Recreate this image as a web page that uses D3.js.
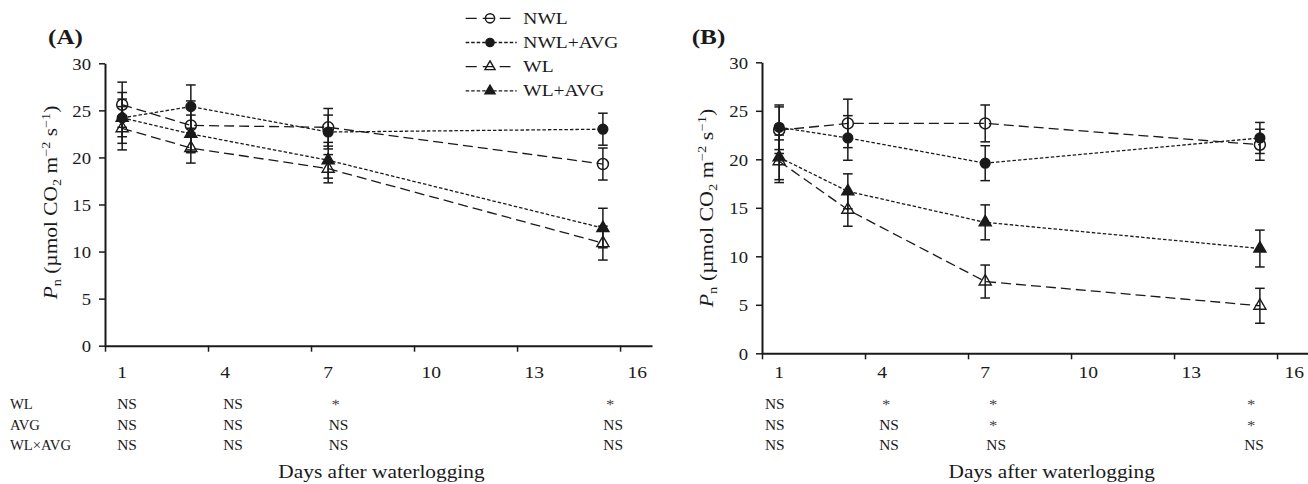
<!DOCTYPE html>
<html>
<head>
<meta charset="utf-8">
<script src="https://cdn.jsdelivr.net/npm/d3@7"></script>
<style>
  html, body { margin: 0; padding: 0; background: #fff; }
  svg { display: block; }
  text { font-family: "Liberation Serif", "Times New Roman", serif; fill: #1a1a1a; }
</style>
</head>
<body>
<svg id="chart" width="1308" height="484"></svg>
<script>
// ---- data -------------------------------------------------------------
const days = [1, 3, 7, 15];
const seriesNames = ["NWL", "NWL+AVG", "WL", "WL+AVG"];

// Panel A: mean Pn and standard error
const aNWL     = [25.6, 23.4, 23.2, 19.3];
const aNWLse   = [2.4, 2.6, 2.0, 1.7];
const aNWLAVG  = [24.2, 25.4, 22.7, 23.0];
const aNWLAVGse= [2.0, 2.3, 1.8, 1.7];
const aWL      = [23.1, 21.0, 18.8, 10.9];
const aWLse    = [2.3, 1.6, 1.5, 1.8];
const aWLAVG   = [24.2, 22.5, 19.7, 12.5];
const aWLAVGse = [2.7, 2.0, 1.9, 2.1];

// Panel B: mean Pn and standard error
const bNWL     = [23.0, 23.7, 23.7, 21.5];
const bNWLse   = [2.4, 2.5, 1.9, 1.6];
const bNWLAVG  = [23.3, 22.2, 19.6, 22.2];
const bNWLAVGse= [2.3, 2.3, 1.8, 1.6];
const bWL      = [19.8, 14.8, 7.4, 4.9];
const bWLse    = [2.2, 1.7, 1.7, 1.8];
const bWLAVG   = [20.2, 16.7, 13.5, 10.8];
const bWLAVGse = [2.3, 1.8, 1.8, 1.9];

const yTicks = [0, 5, 10, 15, 20, 25, 30];
const xTickLabels = [1, 4, 7, 10, 13, 16];
const xTickMarks = [0.5, 3.5, 6.5, 9.5, 12.5, 15.5];

// ANOVA significance per sampling day
const factorRows = ["WL", "AVG", "WL\u00d7AVG"];
const aSigWL  = ["NS", "NS", "*", "*"];
const aSigAVG = ["NS", "NS", "NS", "NS"];
const aSigINT = ["NS", "NS", "NS", "NS"];
const bSigWL  = ["NS", "*", "*", "*"];
const bSigAVG = ["NS", "NS", "*", "*"];
const bSigINT = ["NS", "NS", "NS", "NS"];

// ---- styles -----------------------------------------------------------
const INK = "#1a1a1a";
const LONG = "10,5";
const SHORT = "3.5,2";
const seriesStyle = {
  "NWL":     { dash: LONG,  marker: "circle",   filled: false },
  "NWL+AVG": { dash: SHORT, marker: "circle",   filled: true  },
  "WL":      { dash: LONG,  marker: "triangle", filled: false },
  "WL+AVG":  { dash: SHORT, marker: "triangle", filled: true  }
};

const svg = d3.select("#chart");

function addText(parent, x, y, str, opt) {
  const o = Object.assign({ size: 16, anchor: "start", weight: "normal", sx: 1, rot: 0 }, opt || {});
  return parent.append("text")
    .attr("transform", `translate(${x},${y}) rotate(${o.rot}) scale(${o.sx},1)`)
    .attr("text-anchor", o.anchor)
    .style("font-size", o.size + "px")
    .style("font-weight", o.weight)
    .text(str);
}

function fitWidth(textSel, target, x, y) {
  const w = textSel.node().getBBox().width;
  textSel.attr("transform", `translate(${x},${y}) scale(${target / w},1)`);
}

function drawMarker(g, kind, filled, cx, cy, size) {
  if (kind === "circle") {
    g.append("circle")
      .attr("cx", cx).attr("cy", cy)
      .attr("r", filled ? size * 0.88 : size)
      .attr("fill", filled ? INK : "none")
      .attr("stroke", INK)
      .attr("stroke-width", 1.5);
  } else {
    const side = size * 2.2;
    const area = Math.sqrt(3) / 4 * side * side;
    g.append("path")
      .attr("d", d3.symbol(d3.symbolTriangle, area)())
      .attr("transform", `translate(${cx},${cy})`)
      .attr("fill", filled ? INK : "none")
      .attr("stroke", INK)
      .attr("stroke-width", 1.4)
      .attr("stroke-linejoin", "miter");
  }
}

function drawPanel(p) {
  const g = svg.append("g");
  const x = d3.scaleLinear().domain([0.5, 16.43]).range([p.x0, p.x1]);
  const y = d3.scaleLinear().domain([0, 30]).range([p.yBottom, p.yTop]);

  // y axis
  const ya = g.append("g").attr("transform", `translate(${p.x0},0)`)
    .call(d3.axisLeft(y).tickValues(yTicks).tickSize(6).tickSizeOuter(0).tickPadding(0));
  ya.select(".domain").attr("stroke", INK).attr("stroke-width", 2);
  ya.selectAll(".tick line").attr("stroke", INK).attr("stroke-width", 1.5);
  ya.selectAll(".tick text")
    .attr("x", null).attr("dy", null)
    .attr("transform", "translate(-14,6) scale(1.1,1)")
    .attr("text-anchor", "end")
    .style("font-size", "17px")
    .style("font-family", "'Liberation Serif','Times New Roman',serif")
    .attr("fill", INK);

  // x axis
  const xa = g.append("g").attr("transform", `translate(0,${p.yBottom})`)
    .call(d3.axisBottom(x).tickValues(xTickMarks).tickFormat("").tickSize(6).tickSizeOuter(0));
  xa.select(".domain").attr("stroke", INK).attr("stroke-width", 2);
  xa.selectAll(".tick line").attr("stroke", INK).attr("stroke-width", 1.5);

  // x tick labels
  xTickLabels.forEach(d => addText(g, x(d), 377.5, String(d), { size: 17, anchor: "middle", sx: 1.15 }));

  // panel letter
  addText(g, p.letterX, 44.3, p.letter, { size: 21, weight: "bold", sx: 1.2 });

  // y axis title
  const tg = g.append("g").attr("transform", `translate(${p.titleX},${p.titleY}) rotate(-90)`);
  const tt = tg.append("text").attr("text-anchor", "middle").style("font-size", "18px");
  tt.append("tspan").style("font-style", "italic").text("P");
  tt.append("tspan").attr("dy", 4).style("font-size", "12px").text("n");
  tt.append("tspan").attr("dy", -4).text(" (\u00b5mol CO");
  tt.append("tspan").attr("dy", 4).style("font-size", "12px").text("2");
  tt.append("tspan").attr("dy", -4).text(" m");
  tt.append("tspan").attr("dy", -7).style("font-size", "12px").text("\u22122");
  tt.append("tspan").attr("dy", 7).text(" s");
  tt.append("tspan").attr("dy", -7).style("font-size", "12px").text("\u22121");
  tt.append("tspan").attr("dy", 7).text(")");
  fitWidth(tt, p.titleLen, 0, 0);

  // series lines
  const line = d3.line().x((d, i) => x(days[i])).y(d => y(d));
  p.series.forEach(s => {
    const st = seriesStyle[s.name];
    g.append("path").datum(s.values)
      .attr("d", line)
      .attr("fill", "none")
      .attr("stroke", INK)
      .attr("stroke-width", 1.3)
      .attr("stroke-dasharray", st.dash);
  });

  // error bars
  p.series.forEach(s => {
    s.values.forEach((v, i) => {
      const cx = x(days[i]);
      const top = y(v + s.se[i]), bot = y(v - s.se[i]);
      g.append("line").attr("x1", cx).attr("x2", cx).attr("y1", top).attr("y2", bot)
        .attr("stroke", INK).attr("stroke-width", 1.5);
      [top, bot].forEach(yy => g.append("line")
        .attr("x1", cx - 4.8).attr("x2", cx + 4.8).attr("y1", yy).attr("y2", yy)
        .attr("stroke", INK).attr("stroke-width", 1.5));
    });
  });

  // markers
  p.series.forEach(s => {
    const st = seriesStyle[s.name];
    s.values.forEach((v, i) => drawMarker(g, st.marker, st.filled, x(days[i]), y(v), 5.5));
  });

  // significance table
  const rowY = [408.5, 429.5, 450];
  if (p.rowLabels) {
    factorRows.forEach((r, j) => addText(g, 10, rowY[j], r, { size: 14, sx: 1.05 }));
  }
  p.sig.forEach((row, j) => {
    row.forEach((s, i) => {
      const star = s === "*";
      const t = addText(g, x(p.sigCols[i]) - (star ? 3 : 0), rowY[j] + (star ? 1 : 0), s,
        { size: star ? 15 : 14, anchor: "middle", sx: 1.1, rot: star ? 0.5 : 0 });
      if (star) t.style("fill", "#444");
    });
  });

  // x axis title
  const xt = addText(g, 0, 0, "Days after waterlogging", { size: 19, anchor: "middle" });
  fitWidth(xt, 207, p.xTitleX, 478);
}

drawPanel({
  letter: "(A)", letterX: 48,
  x0: 105, x1: 652, yTop: 63.3, yBottom: 345.7,
  titleX: 56.5, titleY: 202.5, titleLen: 195,
  xTitleX: 381.5,
  rowLabels: true,
  sigCols: [1.14, 4.23, 7.3, 15.3],
  sig: [aSigWL, aSigAVG, aSigINT],
  series: [
    { name: "NWL",     values: aNWL,    se: aNWLse },
    { name: "NWL+AVG", values: aNWLAVG, se: aNWLAVGse },
    { name: "WL",      values: aWL,     se: aWLse },
    { name: "WL+AVG",  values: aWLAVG,  se: aWLAVGse }
  ]
});

drawPanel({
  letter: "(B)", letterX: 691.7,
  x0: 762, x1: 1309, yTop: 62.3, yBottom: 353.3,
  titleX: 713, titleY: 208, titleLen: 200,
  xTitleX: 1051.7,
  rowLabels: false,
  sigCols: [0.87, 4.2, 7.32, 14.83],
  sig: [bSigWL, bSigAVG, bSigINT],
  series: [
    { name: "NWL",     values: bNWL,    se: bNWLse },
    { name: "NWL+AVG", values: bNWLAVG, se: bNWLAVGse },
    { name: "WL",      values: bWL,     se: bWLse },
    { name: "WL+AVG",  values: bWLAVG,  se: bWLAVGse }
  ]
});

// legend
const lg = svg.append("g");
seriesNames.forEach((name, i) => {
  const st = seriesStyle[name];
  const cy = 18.3 + 24.2 * i;
  const x2 = st.dash === LONG ? 510.5 : 516.7;
  lg.append("line").attr("x1", 465.7).attr("x2", x2).attr("y1", cy).attr("y2", cy)
    .attr("stroke", INK).attr("stroke-width", 1.3)
    .attr("stroke-dasharray", st.dash === LONG ? "11,6" : SHORT);
  drawMarker(lg, st.marker, st.filled, 490, cy, 4.6);
  addText(lg, 523.3, cy + 5.5, name, { size: 16, sx: 1.22 });
});
</script>
</body>
</html>
